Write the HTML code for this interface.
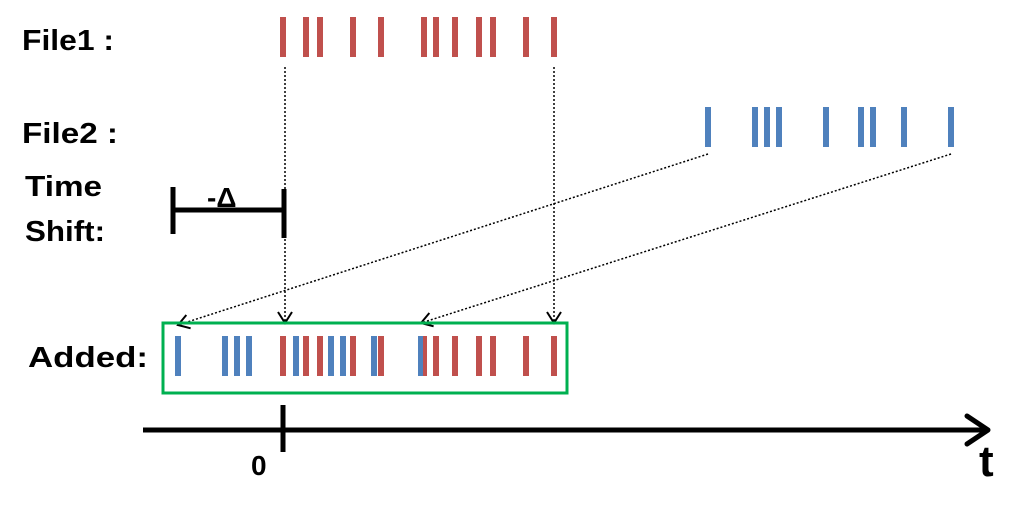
<!DOCTYPE html>
<html><head><meta charset="utf-8"><style>
html,body{margin:0;padding:0;background:#fff;}
svg text{font-family:"Liberation Sans",sans-serif;font-weight:bold;fill:#000;}
</style></head><body>
<svg width="1035" height="526" viewBox="0 0 1035 526" xmlns="http://www.w3.org/2000/svg">
<defs>
<marker id="ah" markerWidth="16" markerHeight="16" refX="13" refY="8" orient="auto" markerUnits="userSpaceOnUse">
<path d="M2,1 L13,8 L2,15" fill="none" stroke="#000" stroke-width="2"/>
</marker>
</defs>
<text x="22" y="50" font-size="29" textLength="92" lengthAdjust="spacingAndGlyphs">File1 :</text>
<text x="22" y="143" font-size="29" textLength="96" lengthAdjust="spacingAndGlyphs">File2 :</text>
<text x="25" y="196" font-size="29" textLength="77" lengthAdjust="spacingAndGlyphs">Time</text>
<text x="25" y="241" font-size="29" textLength="80" lengthAdjust="spacingAndGlyphs">Shift:</text>
<text x="28" y="367" font-size="29" textLength="120" lengthAdjust="spacingAndGlyphs">Added:</text>
<g fill="#c0504d">
<rect x="280" y="17" width="6" height="40"/><rect x="303" y="17" width="6" height="40"/><rect x="317" y="17" width="6" height="40"/><rect x="350" y="17" width="6" height="40"/><rect x="378" y="17" width="6" height="40"/><rect x="421" y="17" width="6" height="40"/><rect x="433" y="17" width="6" height="40"/><rect x="452" y="17" width="6" height="40"/><rect x="476" y="17" width="6" height="40"/><rect x="490" y="17" width="6" height="40"/><rect x="523" y="17" width="6" height="40"/><rect x="551" y="17" width="6" height="40"/>
</g>
<g fill="#4f81bd">
<rect x="705" y="107" width="6" height="40"/><rect x="752" y="107" width="6" height="40"/><rect x="764" y="107" width="6" height="40"/><rect x="776" y="107" width="6" height="40"/><rect x="823" y="107" width="6" height="40"/><rect x="858" y="107" width="6" height="40"/><rect x="870" y="107" width="6" height="40"/><rect x="901" y="107" width="6" height="40"/><rect x="948" y="107" width="6" height="40"/>
</g>
<g stroke="#000" stroke-width="1.5" stroke-dasharray="2,2" fill="none" marker-end="url(#ah)">
<line x1="285" y1="67" x2="285" y2="323"/>
<line x1="554" y1="67" x2="554" y2="323"/>
<line x1="708" y1="154" x2="178" y2="325"/>
<line x1="951" y1="154" x2="421" y2="323"/>
</g>
<rect x="163" y="323" width="404" height="70" fill="none" stroke="#00b050" stroke-width="3"/>
<g fill="#4f81bd">
<rect x="175" y="336" width="6" height="40"/><rect x="222" y="336" width="6" height="40"/><rect x="234" y="336" width="6" height="40"/><rect x="246" y="336" width="6" height="40"/><rect x="293" y="336" width="6" height="40"/><rect x="328" y="336" width="6" height="40"/><rect x="340" y="336" width="6" height="40"/><rect x="371" y="336" width="6" height="40"/>
</g>
<g fill="#c0504d">
<rect x="280" y="336" width="6" height="40"/><rect x="303" y="336" width="6" height="40"/><rect x="317" y="336" width="6" height="40"/><rect x="350" y="336" width="6" height="40"/><rect x="378" y="336" width="6" height="40"/><rect x="421" y="336" width="6" height="40"/><rect x="433" y="336" width="6" height="40"/><rect x="452" y="336" width="6" height="40"/><rect x="476" y="336" width="6" height="40"/><rect x="490" y="336" width="6" height="40"/><rect x="523" y="336" width="6" height="40"/><rect x="551" y="336" width="6" height="40"/>
</g>
<rect x="418" y="336" width="5" height="40" fill="#4f81bd"/>
<g stroke="#000" stroke-width="5" fill="none">
<line x1="173" y1="187" x2="173" y2="234"/>
<line x1="173" y1="210" x2="284" y2="210"/>
<line x1="284" y1="189" x2="284" y2="238"/>
<line x1="143" y1="430" x2="986" y2="430"/>
<polyline points="967,416 988,430 967,444" stroke-linecap="round" stroke-linejoin="round"/>
<line x1="283" y1="405" x2="283" y2="452"/>
</g>
<text x="207" y="207" font-size="28">-Δ</text>
<text x="251" y="475" font-size="28">0</text>
<text x="979" y="476" font-size="44">t</text>
</svg>
</body></html>
